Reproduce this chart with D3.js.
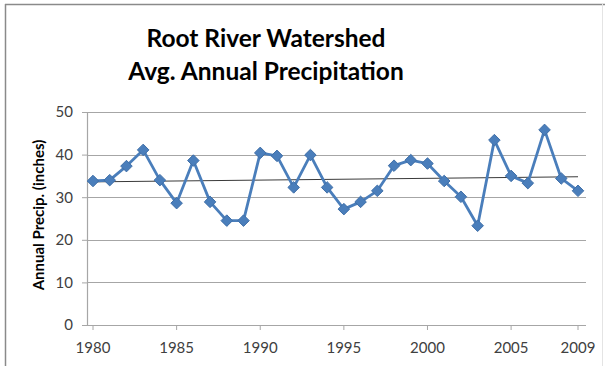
<!DOCTYPE html>
<html>
<head>
<meta charset="utf-8">
<script src="https://cdn.jsdelivr.net/npm/d3@7"></script>
<style>
  html, body { margin: 0; padding: 0; background: #fff; }
  svg { display: block; font-family: Lato, "Liberation Sans", sans-serif; }
</style>
</head>
<body>
<svg id="chart" width="605" height="366"></svg>
<script>
const years = [1980,1981,1982,1983,1984,1985,1986,1987,1988,1989,1990,1991,1992,1993,1994,1995,1996,1997,1998,1999,2000,2001,2002,2003,2004,2005,2006,2007,2008,2009];
const precip = [33.8,34.0,37.3,41.1,34.0,28.6,38.6,28.9,24.5,24.5,40.4,39.7,32.3,39.9,32.3,27.2,28.9,31.5,37.4,38.7,37.9,33.8,30.1,23.3,43.4,35.0,33.3,45.8,34.4,31.5];
const trendValues = [33.6, 34.8];
const yTicks = [0,10,20,30,40,50];
const xTickLabels = [1980,1985,1990,1995,2000,2005,2009];
const titleLines = ["Root River Watershed", "Avg. Annual Precipitation"];
const yAxisTitle = "Annual Precip. (inches)";

const svg = d3.select("#chart");

// outer frame
svg.append("line").attr("x1",5).attr("y1",4.5).attr("x2",605).attr("y2",4.5).attr("stroke","#8a8a8a").attr("stroke-width",1.5);
svg.append("line").attr("x1",5.5).attr("y1",4).attr("x2",5.5).attr("y2",366).attr("stroke","#8a8a8a").attr("stroke-width",1.5);
svg.append("line").attr("x1",602.5).attr("y1",4).attr("x2",602.5).attr("y2",366).attr("stroke","#e4e4e4").attr("stroke-width",1);

const x = d3.scalePoint().domain(years).range([93, 578]);
const y = d3.scaleLinear().domain([0, 50]).range([325, 112]);
const plotLeft = 87, plotRight = 586;

// gridlines
svg.append("g").selectAll("line").data(yTicks.filter(d => d > 0)).join("line")
  .attr("x1", plotLeft).attr("x2", plotRight)
  .attr("y1", d => Math.round(y(d)) + 0.5).attr("y2", d => Math.round(y(d)) + 0.5)
  .attr("stroke", "#a6a6a6").attr("stroke-width", 1.2);

// y axis
const yAxis = svg.append("g").attr("transform", `translate(${plotLeft},0)`)
  .call(d3.axisLeft(y).tickValues(yTicks).tickSize(5).tickPadding(9));
yAxis.select(".domain").attr("stroke", "#a6a6a6").attr("stroke-width", 1.2);
yAxis.selectAll(".tick line").attr("stroke", "#a6a6a6");
yAxis.selectAll("text").attr("font-size", 15).attr("fill", "#404040").attr("font-family", "Lato, sans-serif");

// x axis line
svg.append("line").attr("x1", plotLeft).attr("x2", plotRight)
  .attr("y1", Math.round(y(0)) + 0.5).attr("y2", Math.round(y(0)) + 0.5)
  .attr("stroke", "#a6a6a6").attr("stroke-width", 1.2);
// x ticks & labels
const xg = svg.append("g");
xg.selectAll("line").data(xTickLabels).join("line")
  .attr("x1", d => x(d)).attr("x2", d => x(d))
  .attr("y1", y(0)).attr("y2", y(0) + 5)
  .attr("stroke", "#a6a6a6");
xg.selectAll("text").data(xTickLabels).join("text")
  .attr("x", d => x(d)).attr("y", 353)
  .attr("text-anchor", "middle").attr("font-size", 15).attr("fill", "#404040")
  .text(d => d);

// trend line
svg.append("line")
  .attr("x1", x(years[0])).attr("x2", x(years[years.length - 1]))
  .attr("y1", y(trendValues[0])).attr("y2", y(trendValues[1]))
  .attr("stroke", "#3a3a3a").attr("stroke-width", 1);

// series line
const line = d3.line().x((d, i) => x(years[i])).y(d => y(d));
svg.append("path").datum(precip)
  .attr("d", line).attr("fill", "none")
  .attr("stroke", "#4a7ebb").attr("stroke-width", 2.8).attr("stroke-linejoin", "round");

// markers
svg.append("g").selectAll("path").data(precip).join("path")
  .attr("transform", (d, i) => `translate(${x(years[i])},${y(d)})`)
  .attr("d", d3.symbol(d3.symbolDiamond2, 85))
  .attr("fill", "#4a7ebb").attr("stroke", "#3f6fa8").attr("stroke-width", 1);

// title
svg.append("g").selectAll("text").data(titleLines).join("text")
  .attr("x", 266).attr("y", (d, i) => 47 + i * 33)
  .attr("text-anchor", "middle").attr("font-size", 24.5).attr("font-weight", "bold")
  .attr("fill", "#000").text(d => d);

// y axis title
svg.append("text")
  .attr("transform", `translate(44,215) rotate(-90)`)
  .attr("text-anchor", "middle").attr("font-size", 15).attr("font-weight", "bold")
  .attr("fill", "#000").text(yAxisTitle);
</script>
</body>
</html>
